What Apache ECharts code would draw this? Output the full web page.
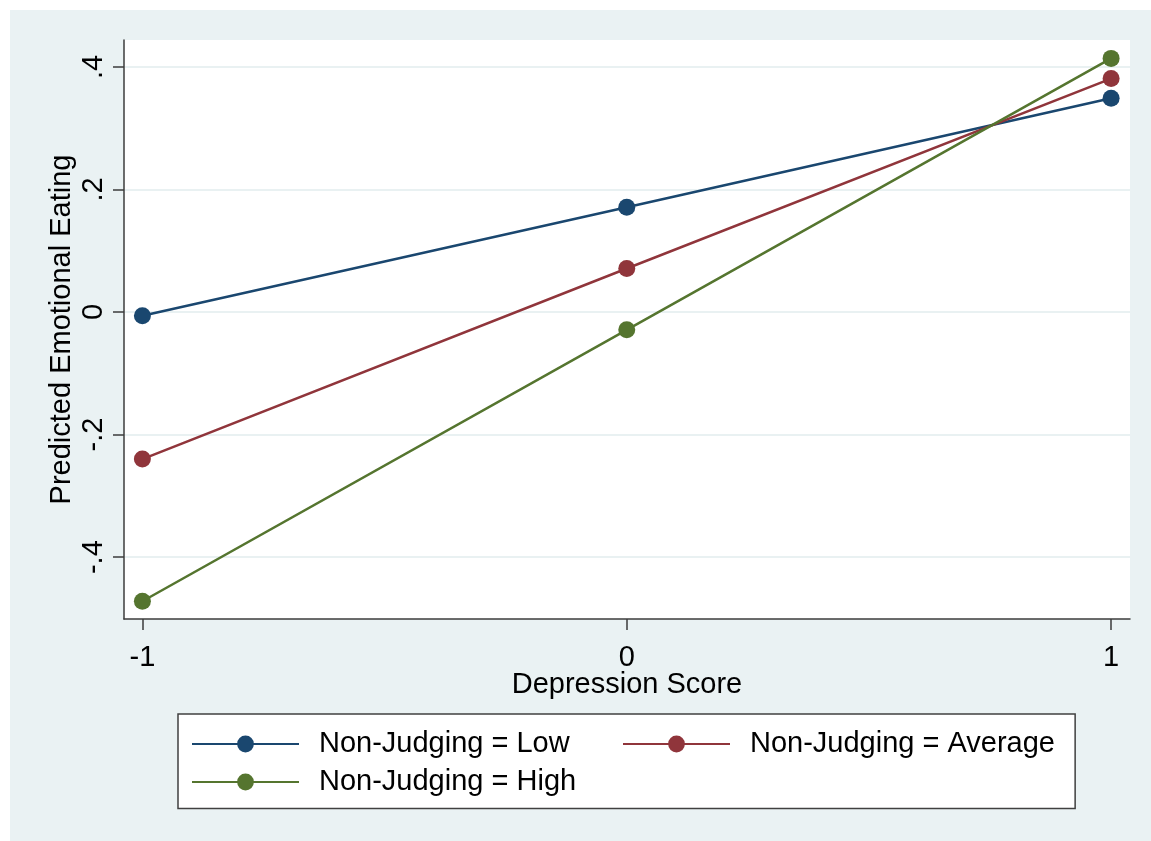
<!DOCTYPE html>
<html>
<head>
<meta charset="utf-8">
<script src="https://cdn.jsdelivr.net/npm/echarts@6/dist/echarts.min.js"></script>
<style>
  html, body { margin: 0; padding: 0; background: #ffffff; }
  #chart { position: absolute; left: 10px; top: 10px; width: 1141px; height: 831px; }
</style>
</head>
<body>
<div id="chart"></div>
<script>
const depressionScores = [-1, 0, 1];
const seriesNames = ['Non-Judging = Low', 'Non-Judging = Average', 'Non-Judging = High'];
const lowValues = [-0.006, 0.171, 0.349];
const averageValues = [-0.240, 0.071, 0.381];
const highValues = [-0.472, -0.029, 0.414];
const yTickValues = [-0.4, -0.2, 0, 0.2, 0.4];
const xTickValues = [-1, 0, 1];
const colors = ['#1a476f', '#90353b', '#55752f'];

const FONT = '"Liberation Sans", Arial, sans-serif';
const FS = 29;
const allValues = [lowValues, averageValues, highValues];

function fmt(v) {
  if (v === 0) return '0';
  const s = String(Math.round(v * 10) / 10);
  return s.replace(/^(-?)0\./, '$1.');
}

const legendText = {
  fontFamily: FONT, fontSize: FS, color: '#000',
  rich: { b: { fontFamily: FONT, fontSize: FS, color: '#000', padding: [0, 0, 0, 15] } }
};
const legendCommon = {
  orient: 'vertical',
  top: 704,
  itemGap: 9,
  itemWidth: 107,
  itemHeight: 21,
  formatter: name => '{b|' + name + '}',
  textStyle: legendText
};

const chart = echarts.init(document.getElementById('chart'), null, { renderer: 'canvas' });

const option = {
  animation: false,
  backgroundColor: '#eaf2f3',
  grid: { left: 114, top: 30, right: 21, bottom: 222, show: true, backgroundColor: '#ffffff', borderWidth: 0 },
  xAxis: {
    type: 'value',
    min: -1.038,
    max: 1.039,
    name: 'Depression Score',
    nameLocation: 'middle',
    nameGap: 51,
    nameMoveOverlap: false,
    nameTextStyle: { fontFamily: FONT, fontSize: FS, color: '#000' },
    axisLine: { show: true, onZero: false, lineStyle: { color: '#3c3c3c', width: 1.5 } },
    axisTick: { show: true, length: 11, customValues: xTickValues, lineStyle: { color: '#3c3c3c', width: 1.5 } },
    axisLabel: { customValues: xTickValues, margin: 24, fontFamily: FONT, fontSize: FS, color: '#000', formatter: v => fmt(v) },
    splitLine: { show: false }
  },
  yAxis: {
    type: 'value',
    min: -0.501,
    max: 0.444,
    name: 'Predicted Emotional Eating',
    nameLocation: 'middle',
    nameGap: 48,
    nameMoveOverlap: false,
    nameRotate: 90,
    nameTextStyle: { fontFamily: FONT, fontSize: FS, color: '#000' },
    axisLine: { show: true, onZero: false, lineStyle: { color: '#3c3c3c', width: 1.5 } },
    axisTick: { show: true, length: 11, customValues: yTickValues, lineStyle: { color: '#3c3c3c', width: 1.5 } },
    axisLabel: { customValues: yTickValues, rotate: 90, margin: 16, fontFamily: FONT, fontSize: FS, color: '#000', formatter: v => fmt(v) },
    splitLine: { show: true, lineStyle: { color: '#e2ecee', width: 1.5 } }
  },
  legend: [
    Object.assign({}, legendCommon, {
      data: [seriesNames[0], seriesNames[2]],
      left: 168,
      padding: [15.5, 499, 12, 13],
      backgroundColor: '#ffffff',
      borderColor: '#404040',
      borderWidth: 1.5,
      borderRadius: 0,
      z: 4
    }),
    Object.assign({}, legendCommon, {
      data: [seriesNames[1]],
      left: 612,
      padding: [15.5, 0, 0, 0],
      backgroundColor: 'transparent',
      borderWidth: 0,
      z: 6
    })
  ],
  series: seriesNames.map((name, i) => ({
    name: name,
    type: 'line',
    data: depressionScores.map((x, j) => [x, allValues[i][j]]),
    symbol: 'circle',
    symbolSize: 17,
    showSymbol: true,
    color: colors[i],
    lineStyle: { color: colors[i], width: 2.5 },
    itemStyle: { color: colors[i] },
    z: 2 + i
  }))
};

chart.setOption(option);
</script>
</body>
</html>
